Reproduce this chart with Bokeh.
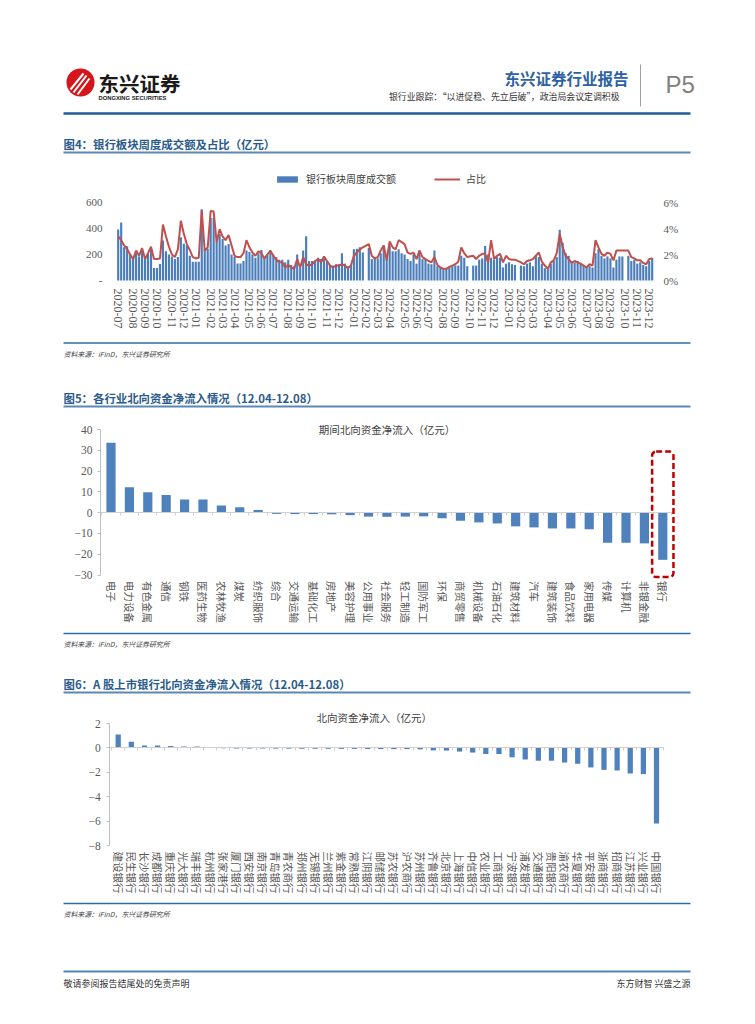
import numpy as np
import pandas as pd
from bokeh.plotting import figure
from bokeh.models import Range1d, LinearAxis, FixedTicker, Legend, LegendItem, BoxAnnotation
from bokeh.core.properties import value
from bokeh.embed import file_html
from bokeh.resources import INLINE

NaN = float("nan")

# ---------------- data ----------------
week_start = "2020-07-03"   # weekly observations (Fridays)
turnover = [393, 447, 256, 264, 204, 178, 209, 184, 243, 178,
            204, 243, 96, 96, 127, 308, 225, 200, 185, 165,
            180, 333, 283, 270, 190, 145, 145, 145, 548, 240,
            245, 480, 480, 300, 360, 320, 270, 280, 200, 180,
            130, 130, 150, 230, 220, 200, 175, 210, 235, 180,
            200, 215, 200, 180, 160, 160, 140, 160, 120, 110,
            200, 100, 230, 340, 150, 150, 150, 175, 165, 180,
            150, 120, 115, 125, 125, 210, 130, 110, 120, 240,
            245, 255, 215, NaN, 250, 165, 170, 170, 210, 270,
            165, 270, 225, 225, 240, 210, 200, 165, 150, 200,
            130, 230, 165, 165, 130, 125, 230, 110, 100, 95,
            95, 105, 110, 115, 115, 190, 175, 110, NaN, 115,
            115, 160, 170, 265, 200, 175, 160, 180, 175, 100,
            130, 140, 125, 120, NaN, 115, 110, 130, 140, 110,
            190, 180, 130, 95, 95, 130, 150, 180, 390, 290,
            210, 190, 140, 140, 150, 130, 115, 105, 110, 100,
            210, 240, 190, 170, 185, 170, 100, 160, 185, 185,
            NaN, 190, 150, 160, 130, 140, 120, 110, 150, 175]
share_pct = [3.4, 3.1, 2.7, 2.4, 2.0, 1.65, 2.3, 1.9, 2.5, 1.65,
             2.1, 2.6, 1.65, 1.65, 1.7, 4.3, 3.4, 2.6, 2.0, 1.8,
             2.4, 4.6, 3.6, 2.8, 2.35, 1.8, 1.7, 1.75, 5.4, 2.3,
             2.55, 5.35, 5.3, 2.95, 3.95, 3.4, 3.1, 3.5, 2.7, 1.9,
             1.8, 1.8, 2.1, 3.1, 2.55, 2.15, 1.9, 2.25, 2.1, 1.7,
             2.0, 2.3, 1.9, 1.6, 1.4, 1.4, 1.0, 1.2, 1.0, 0.9,
             1.65, 1.0, 1.8, 1.25, 1.15, 1.25, 1.5, 1.65, 1.4, 1.85,
             1.5, 1.15, 1.0, 1.15, 1.15, 1.25, 1.15, 0.95, 1.15, 1.9,
             2.15, 2.4, 2.55, NaN, 2.8, 1.9, 1.7, 1.8, 2.3, 2.7,
             1.55, 3.0, 2.55, 2.4, 3.1, 2.95, 2.8, 2.15, 2.05, 2.15,
             1.65, 2.3, 1.8, 1.65, 1.5, 1.4, 1.8, 1.2, 1.0, 0.9,
             0.9, 1.05, 1.15, 1.25, 1.45, 2.55, 2.1, 1.8, NaN, 1.9,
             1.65, 1.9, 2.05, 2.05, 1.4, 3.1, 1.65, 1.9, 2.05, 1.4,
             1.9, 1.65, 1.6, 1.6, NaN, 1.4, 1.25, 1.5, 1.55, 1.65,
             1.9, 2.15, 1.45, 1.15, 0.9, 1.4, 1.55, 2.1, 3.6, 2.55,
             1.9, 1.65, 1.35, 1.5, 1.4, 1.3, 1.15, 1.0, 1.25, 1.15,
             3.1, 2.55, 2.05, 1.9, 2.15, 2.05, 1.55, 2.3, 2.3, 2.3,
             NaN, 2.3, 1.8, 1.7, 1.55, 1.55, 1.35, 1.25, 1.65, 1.7]

industries = ["电子", "电力设备", "有色金属", "通信", "钢铁", "医药生物", "农林牧渔", "煤炭",
              "纺织服饰", "综合", "交通运输", "基础化工", "房地产", "美容护理", "公用事业",
              "社会服务", "轻工制造", "国防军工", "环保", "商贸零售", "机械设备", "石油石化",
              "建筑材料", "汽车", "建筑装饰", "食品饮料", "家用电器", "传媒", "计算机",
              "非银金融", "银行"]
industry_flow = [33.6, 12.2, 9.8, 8.5, 6.3, 6.3, 3.4, 2.6, 1.3, -0.6, -0.7, -0.7, -0.8,
                 -1.2, -1.9, -2.0, -1.9, -1.8, -2.7, -3.9, -4.7, -5.2, -6.6, -7.1, -7.6,
                 -7.6, -8.0, -14.5, -14.5, -14.8, -22.7]

banks = ["建设银行", "民生银行", "长沙银行", "成都银行", "重庆银行", "光大银行", "瑞丰银行",
         "杭州银行", "张家港行", "厦门银行", "西安银行", "南京银行", "青岛银行", "青农商行",
         "郑州银行", "无锡银行", "兰州银行", "紫金银行", "常熟银行", "江阴银行", "邮储银行",
         "苏农银行", "沪农商行", "苏州银行", "齐鲁银行", "北京银行", "上海银行", "中信银行",
         "农业银行", "工商银行", "宁波银行", "浦发银行", "交通银行", "贵阳银行", "渝农商行",
         "华夏银行", "平安银行", "浙商银行", "招商银行", "江苏银行", "兴业银行", "中国银行"]
bank_flow = [1.1, 0.5, 0.2, 0.2, 0.15, 0.12, 0.12, 0.03, -0.03, -0.05, -0.05, -0.05, -0.06,
             -0.06, -0.07, -0.07, -0.07, -0.08, -0.08, -0.09, -0.1, -0.1, -0.1, -0.12, -0.2,
             -0.22, -0.3, -0.38, -0.5, -0.5, -0.77, -0.95, -1.05, -1.05, -1.2, -1.3, -1.6,
             -1.8, -1.85, -2.1, -2.15, -6.2]

# ---------------- page & helpers ----------------
PW, PH = 754, 1020
CJK = "Noto Sans CJK SC"
SERIF = "Liberation Serif"
SANS = "Liberation Sans"
AXC = "#595959"
BAR = "#4F81BD"
SRC = "资料来源：iFinD，东兴证券研究所"

p = figure(width=PW, height=PH, x_range=Range1d(0, PW), y_range=Range1d(PH, 0),
           x_axis_location=None, y_axis_location=None, toolbar_location=None,
           output_backend="svg", min_border=0)
p.grid.visible = False
p.outline_line_color = None


def xr(px0, px1, d0, d1):
    s = (px1 - px0) / (d1 - d0)
    return Range1d(d0 - px0 / s, d1 + (PW - px1) / s)


def yr(py_hi, d_hi, py_lo, d_lo):
    s = (py_lo - py_hi) / (d_hi - d_lo)
    return Range1d(d_lo - (PH - py_lo) / s, d_hi + py_hi / s)


def txt(x, y, s, size, color="#404040", font=CJK, align="left", style="normal"):
    p.text(x=[x], y=[y], text=[s], text_font=value(font), text_font_size=f"{size}px",
           text_color=color, text_align=align, text_baseline="middle", text_font_style=style)


def hline(y, color, w, x0=63, x1=690):
    p.line(x=[x0, x1], y=[y, y], line_color=color, line_width=w)


def fig_title(y, s):
    txt(63, y, s, 11.4, color="#2B5B8C", style="bold")
    hline(y + 9, "#5B87B5", 2)


def source(y):
    hline(y, "#2D6CA8", 1.5)
    txt(63, y + 10.5, SRC, 6.9, color="#404040", style="italic")


def style_axis(ax, size, font=SERIF, line=None, tick_out=0, standoff=6):
    ax.axis_line_color = line
    ax.major_tick_line_color = line
    ax.major_tick_out = tick_out
    ax.major_tick_in = 0
    ax.minor_tick_line_color = None
    ax.major_label_text_font = font
    ax.major_label_text_font_size = f"{size}px"
    ax.major_label_text_color = AXC
    ax.major_label_standoff = standoff
    return ax


# ---------------- header & page furniture ----------------
p.circle(x=[80], y=[82], radius=14, fill_color="#D6151B", line_color=None)
p.segment(x0=[70, 73, 77], y0=[89, 92, 94], x1=[83, 86, 89], y1=[73, 75, 78],
          line_color="white", line_width=2)
txt(98, 82, "东兴证券", 20.5, color="#1A1A1A", style="bold")
txt(98, 97.5, "DONGXING SECURITIES", 5.8, color="#1A1A1A", font=SANS, style="bold")
txt(628, 77, "东兴证券行业报告", 15.5, color="#2E62A0", style="bold", align="right")
txt(628, 96, "银行业跟踪：“以进促稳、先立后破”，政治局会议定调积极", 8.9,
    color="#333333", align="right")
p.line(x=[640, 640], y=[64, 106], line_color="#A0A0A0", line_width=1)
txt(665, 84, "P5", 24, color="#808080", font=SANS)
hline(113, "#1F5C99", 2.5)
fig_title(143, "图4：银行板块周度成交额及占比（亿元）")
source(342.5)
fig_title(397, "图5：各行业北向资金净流入情况（12.04-12.08）")
source(633)
fig_title(683, "图6：A 股上市银行北向资金净流入情况（12.04-12.08）")
source(903)
hline(971, "#4F81BD", 2)
txt(63, 983, "敬请参阅报告结尾处的免责声明", 9, color="#333333")
txt(690, 983, "东方财智 兴盛之源", 9, color="#333333", align="right")

# ---------------- chart 1 ----------------
n1 = len(turnover)
dates = pd.date_range(week_start, periods=n1, freq="7D")
idx1 = np.arange(n1)
month_ticks, month_labels, prev = [], {}, None
for i, d in enumerate(dates):
    if d.month != prev:
        month_ticks.append(int(i))
        month_labels[int(i)] = d.strftime("%Y-%m")
        prev = d.month

p.extra_x_ranges["c1x"] = xr(117.7, 651.7, 0, n1 - 1)
p.extra_y_ranges["c1y"] = yr(202, 600, 280, 0)
p.extra_y_ranges["c1p"] = yr(202, 6, 280, 0)
bars1 = p.vbar(x=idx1, top=turnover, width=0.72, fill_color="#4A7DBA", line_color=None,
               x_range_name="c1x", y_range_name="c1y")
sp = np.array(share_pct, dtype=float)
ok = ~np.isnan(sp)
line1 = p.line(x=idx1[ok], y=sp[ok], line_color="#C0504D", line_width=2,
               x_range_name="c1x", y_range_name="c1p")

left1 = -0.6
right1 = n1 - 1 + 1.45
axl = style_axis(LinearAxis(x_range_name="c1x", y_range_name="c1y", fixed_location=left1,
                            ticker=FixedTicker(ticks=[0, 200, 400, 600]),
                            major_label_overrides={0: "-"}), 11, standoff=14)
p.add_layout(axl, "left")
axr = style_axis(LinearAxis(x_range_name="c1x", y_range_name="c1p", fixed_location=right1,
                            ticker=FixedTicker(ticks=[0, 2, 4, 6]),
                            major_label_overrides={0: "0%", 2: "2%", 4: "4%", 6: "6%"}),
                 11, standoff=7)
p.add_layout(axr, "right")
axb = style_axis(LinearAxis(x_range_name="c1x", y_range_name="c1y", fixed_location=0,
                            ticker=FixedTicker(ticks=month_ticks),
                            major_label_overrides=month_labels), 12, standoff=8)
axb.major_label_orientation = "vertical"
p.add_layout(axb, "below")

leg = Legend(items=[LegendItem(label="银行板块周度成交额", renderers=[bars1]),
                    LegendItem(label="占比", renderers=[line1])],
             location=(274, PH - 186), orientation="horizontal")
leg.label_text_font = CJK
leg.label_text_font_size = "10px"
leg.label_text_color = "#404040"
leg.glyph_width = 26
leg.glyph_height = 8
leg.spacing = 38
leg.label_standoff = 6
leg.border_line_color = None
leg.background_fill_alpha = 0
leg.margin = 0
leg.padding = 0
p.add_layout(leg)

# ---------------- chart 2 ----------------
n2 = len(industries)
x2 = np.arange(n2)
p.extra_x_ranges["c2x"] = xr(110.5, 662.3, 0, n2 - 1)
p.extra_y_ranges["c2y"] = yr(429, 40, 574.5, -30)
p.vbar(x=x2, top=industry_flow, width=0.5, fill_color=BAR, line_color=None,
       x_range_name="c2x", y_range_name="c2y")
edge2 = 0.57
ay2 = style_axis(LinearAxis(x_range_name="c2x", y_range_name="c2y", fixed_location=-edge2,
                            ticker=FixedTicker(ticks=list(range(-30, 50, 10))), bounds=(-30, 40)),
                 11.5, line="#BFBFBF", tick_out=3, standoff=5)
p.add_layout(ay2, "left")
lab2 = style_axis(LinearAxis(x_range_name="c2x", y_range_name="c2y", fixed_location=-30,
                             ticker=FixedTicker(ticks=[int(i) for i in x2]),
                             major_label_overrides={int(i): s for i, s in enumerate(industries)}),
                  10.5, font=CJK, standoff=6)
lab2.major_label_orientation = "vertical"
p.add_layout(lab2, "below")
b2 = [float(i) - 0.5 for i in range(n2 + 1)]
z2 = style_axis(LinearAxis(x_range_name="c2x", y_range_name="c2y", fixed_location=0,
                           ticker=FixedTicker(ticks=b2), bounds=(-edge2, n2 - 1 + edge2),
                           major_label_overrides={t: "" for t in b2}),
                1, line="#D0D0D0", tick_out=3)
p.add_layout(z2, "below")
p.add_layout(BoxAnnotation(left=n2 - 1 - 0.58, right=n2 - 1 + 0.58, top=29.4, bottom=-31.0,
                           x_range_name="c2x", y_range_name="c2y",
                           fill_alpha=0, line_color="#C00000", line_alpha=1.0, line_width=2.5,
                           line_dash="6 3", border_radius=4))
p.text(x=[(n2 - 1) / 2], y=[40], text=["期间北向资金净流入（亿元）"], text_font=value(CJK),
       text_font_size="10.5px", text_color="#404040", text_align="center", text_baseline="middle",
       x_range_name="c2x", y_range_name="c2y")

# ---------------- chart 3 ----------------
n3 = len(banks)
x3 = np.arange(n3)
p.extra_x_ranges["c3x"] = xr(117.7, 656, 0, n3 - 1)
p.extra_y_ranges["c3y"] = yr(723, 2, 845, -8)
p.vbar(x=x3, top=bank_flow, width=0.4, fill_color=BAR, line_color=None,
       x_range_name="c3x", y_range_name="c3y")
edge3 = 0.64
ay3 = style_axis(LinearAxis(x_range_name="c3x", y_range_name="c3y", fixed_location=-edge3,
                            ticker=FixedTicker(ticks=list(range(-8, 4, 2))), bounds=(-8, 2)),
                 11.5, line="#BFBFBF", tick_out=3, standoff=6)
p.add_layout(ay3, "left")
lab3 = style_axis(LinearAxis(x_range_name="c3x", y_range_name="c3y", fixed_location=-8,
                             ticker=FixedTicker(ticks=[int(i) for i in x3]),
                             major_label_overrides={int(i): s for i, s in enumerate(banks)}),
                  10.5, font=CJK, standoff=6)
lab3.major_label_orientation = "vertical"
p.add_layout(lab3, "below")
b3 = [float(i) - 0.5 for i in range(n3 + 1)]
z3 = style_axis(LinearAxis(x_range_name="c3x", y_range_name="c3y", fixed_location=0,
                           ticker=FixedTicker(ticks=b3), bounds=(-edge3, n3 - 1 + 0.53),
                           major_label_overrides={t: "" for t in b3}),
                1, line="#D0D0D0", tick_out=3)
p.add_layout(z3, "below")
p.text(x=[19.5], y=[2.52], text=["北向资金净流入（亿元）"], text_font=value(CJK),
       text_font_size="10.5px", text_color="#404040", text_align="center", text_baseline="middle",
       x_range_name="c3x", y_range_name="c3y")

open("out.html", "w").write(file_html(p, INLINE))
